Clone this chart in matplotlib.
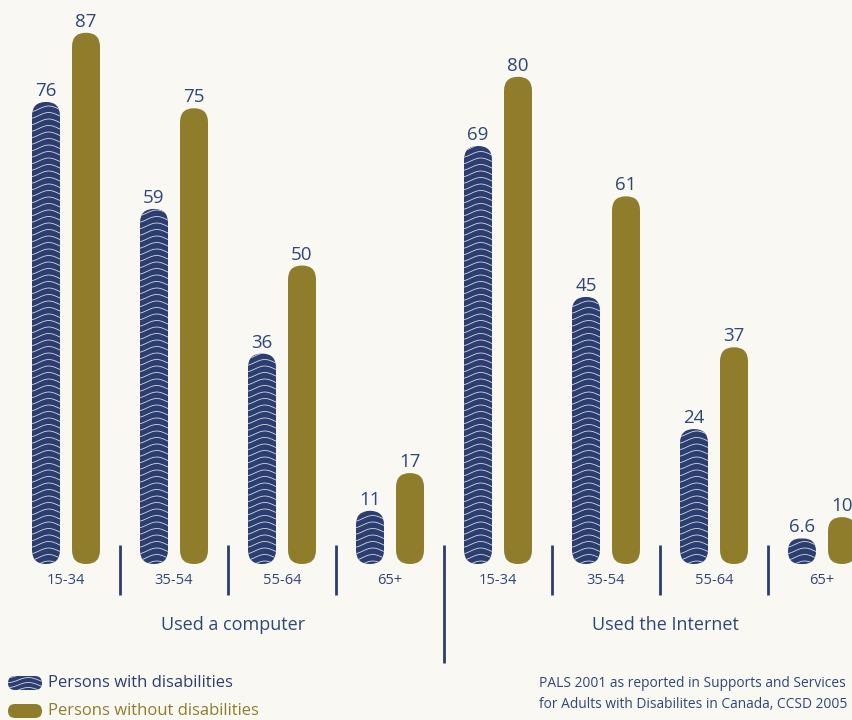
"""Computer and Internet use by age group, persons with and without disabilities."""
import matplotlib.pyplot as plt
import numpy as np
from matplotlib.patches import FancyBboxPatch

NAVY = "#2c3d70"
OLIVE = "#8f7d2b"
TEXT = "#2f4679"
BG = "#f9f8f3"

plt.rcParams["font.family"] = ["Open Sans", "DejaVu Sans"]

group_names = ["Used a computer", "Used the Internet"]
age_groups = ["15-34", "35-54", "55-64", "65+"]
with_disabilities = [76, 59, 36, 11, 69, 45, 24, 6.6]
without_disabilities = [87, 75, 50, 17, 80, 61, 37, 10]
legend_labels = ["Persons with disabilities", "Persons without disabilities"]
source_note = ("PALS 2001 as reported in Supports and Services\n"
               "for Adults with Disabilites in Canada, CCSD 2005")

# pixel geometry of the data axes (axes fill the whole figure)
PX_X = 108.0      # pixels per age-group slot
PX_Y = 6.29       # pixels per percentage point
BASE = 2.54       # rounded foot of every bar sits a little above zero
OFF = 20 / PX_X
WIDTH = 28 / PX_X
ASPECT = PX_X / PX_Y


def round_bars(ax, bars):
    """Swap plain rectangles for pill-shaped patches, return the new patches."""
    pills = []
    for rect in bars:
        x0, y0 = rect.get_x(), rect.get_y()
        w, h = rect.get_width(), rect.get_height()
        r_px = min(w * PX_X / 2, h * PX_Y / 2)
        pill = FancyBboxPatch((x0, y0), w, h,
                              boxstyle=f"round,pad=0,rounding_size={r_px / PX_X}",
                              mutation_aspect=ASPECT,
                              facecolor=rect.get_facecolor(), edgecolor="none",
                              zorder=2)
        rect.remove()
        ax.add_patch(pill)
        pills.append(pill)
    return pills


def wave_lines(ax, clip, x0, x1, y0, y1, dy, amp, wavelength, xscale,
               transform=None, lw=0.6):
    """White wavy texture clipped to a patch; crest a bit right of centre."""
    xs = np.linspace(x0, x1, 40)
    crest = x0 + 0.6 * (x1 - x0)
    kw = {} if transform is None else {"transform": transform}
    for yk in np.arange(y0 - dy, y1 + dy, dy):
        ys = yk + amp * np.cos(2 * np.pi * (xs - crest) * xscale / wavelength)
        line, = ax.plot(xs, ys, color="white", lw=lw, alpha=0.8, zorder=3,
                        solid_capstyle="butt", **kw)
        line.set_clip_path(clip)


fig = plt.figure(figsize=(8.53, 7.2), dpi=100)
fig.patch.set_facecolor(BG)
ax = fig.add_axes([0, 0, 1, 1])
ax.set_facecolor(BG)
ax.set_xlim(-66 / PX_X, (853 - 66) / PX_X)
ax.set_ylim(-140 / PX_Y, (720 - 140) / PX_Y)
ax.axis("off")

x = np.arange(len(with_disabilities))
wd = np.array(with_disabilities, dtype=float)
wo = np.array(without_disabilities, dtype=float)

navy_bars = ax.bar(x - OFF, wd - BASE, bottom=BASE, width=WIDTH, color=NAVY)
olive_bars = ax.bar(x + OFF, wo - BASE, bottom=BASE, width=WIDTH, color=OLIVE)
navy_pills = round_bars(ax, navy_bars)
round_bars(ax, olive_bars)

for xi, v, pill in zip(x, wd, navy_pills):
    wave_lines(ax, pill, xi - OFF - WIDTH / 2, xi - OFF + WIDTH / 2,
               BASE, v, 6.5 / PX_Y, 3.0 / PX_Y, 40, PX_X)

for xi, v in zip(x, wd):
    ax.text(xi - OFF, v + 6 / PX_Y, f"{v:g}", ha="center", va="baseline",
            fontsize=13.5, color=TEXT)
for xi, v in zip(x, wo):
    ax.text(xi + OFF, v + 6 / PX_Y, f"{v:g}", ha="center", va="baseline",
            fontsize=13.5, color=TEXT)

# age-group labels and separators under the bars
xtr = ax.get_xaxis_transform()
for xi in x:
    ax.text(xi, 1 - 581 / 720, age_groups[xi % len(age_groups)], transform=xtr,
            ha="center", va="center", fontsize=10.5, color=TEXT)
for xi in x[:-1]:
    bottom = 663 if (xi + 1) % len(age_groups) == 0 else 595
    ax.plot([xi + 0.5, xi + 0.5], [1 - 545 / 720, 1 - bottom / 720],
            transform=xtr, color=NAVY, lw=2, solid_capstyle="butt")

for gi, name in enumerate(group_names):
    xc = gi * len(age_groups) + (len(age_groups) - 1) / 2 + 0.05
    ax.text(xc, 1 - 625 / 720, name, transform=xtr, ha="center", va="center",
            fontsize=13, color=TEXT)

# legend drawn by hand: pill swatches plus coloured text
fig_aspect = 853 / 720
for row, (label, color) in enumerate(zip(legend_labels, [NAVY, OLIVE])):
    yc = 1 - (683 + 28 * row) / 720
    h = 14 / 720
    x0, w = 8 / 853, 34 / 853
    sw = FancyBboxPatch((x0, yc - h / 2), w, h, transform=ax.transAxes,
                        boxstyle=f"round,pad=0,rounding_size={7 / 853}",
                        mutation_aspect=fig_aspect, facecolor=color,
                        edgecolor="none", clip_on=False)
    ax.add_patch(sw)
    if row == 0:
        wave_lines(ax, sw, x0, x0 + w, yc - h / 2, yc + h / 2, 5 / 720,
                   2.5 / 720, 40, 853, transform=ax.transAxes)
    ax.text(48 / 853, yc, label, transform=ax.transAxes, ha="left", va="center",
            fontsize=12, color=color)

ax.text(539 / 853, 1 - 694 / 720, source_note, transform=ax.transAxes,
        ha="left", va="center", fontsize=9.9, color=TEXT, linespacing=1.5)

fig.savefig("out.png", dpi=100, facecolor=BG)
